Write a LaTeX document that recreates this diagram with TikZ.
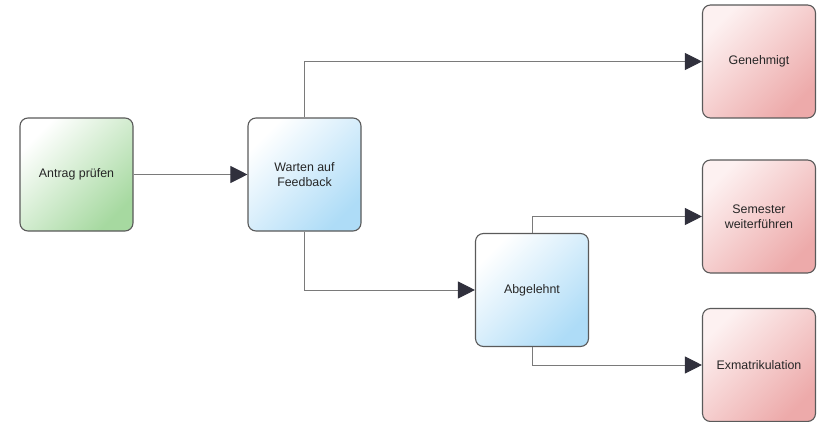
\documentclass[tikz,border=0pt]{standalone}
\usepackage{fontspec}
\setmainfont{Liberation Sans}
\usetikzlibrary{arrows.meta}
\definecolor{linegray}{HTML}{7A7A7A}
\definecolor{tipdark}{HTML}{30303C}
\definecolor{boxline}{HTML}{5A5A5A}
\definecolor{greenend}{HTML}{A6D9A0}
\definecolor{blueend}{HTML}{AEDCF7}
\definecolor{redstart}{HTML}{FDF1F1}
\definecolor{redend}{HTML}{EDAAAA}
\tikzset{
  statebox/.style={draw=boxline, line width=1.1pt, rounded corners=8pt,
    minimum width=113pt, minimum height=113pt, align=center,
    text=black!85},
  greenbox/.style={statebox, top color=white, bottom color=greenend, shading angle=45},
  bluebox/.style={statebox, top color=white, bottom color=blueend, shading angle=45},
  redbox/.style={statebox, top color=redstart, bottom color=redend, shading angle=45},
  flow/.style={draw=linegray, line width=1pt,
    -{Triangle[length=17pt,width=17pt,color=tipdark]}}
}
\begin{document}
\begin{tikzpicture}[x=1pt, y=-1pt, font=\fontsize{12.4}{14.5}\selectfont]
\useasboundingbox (0,0) rectangle (819,422);
% states
\node[greenbox] (antrag) at (76.5,174.5) {Antrag prüfen};
\node[bluebox] (warten) at (304.5,174.5) {Warten auf\\Feedback};
\node[bluebox] (abgelehnt) at (532,290) {Abgelehnt};
\node[redbox] (genehmigt) at (759,61.5) {Genehmigt};
\node[redbox] (semester) at (759,216.5) {Semester\\weiterführen};
\node[redbox] (exma) at (759,365) {Exmatrikulation};
% transitions
\draw[flow] (antrag) -- (warten);
\draw[flow] (warten.north) |- (genehmigt.west);
\draw[flow] (warten.south) |- (abgelehnt.west);
\draw[flow] (abgelehnt.north) |- (semester.west);
\draw[flow] (abgelehnt.south) |- (exma.west);
\end{tikzpicture}
\end{document}
